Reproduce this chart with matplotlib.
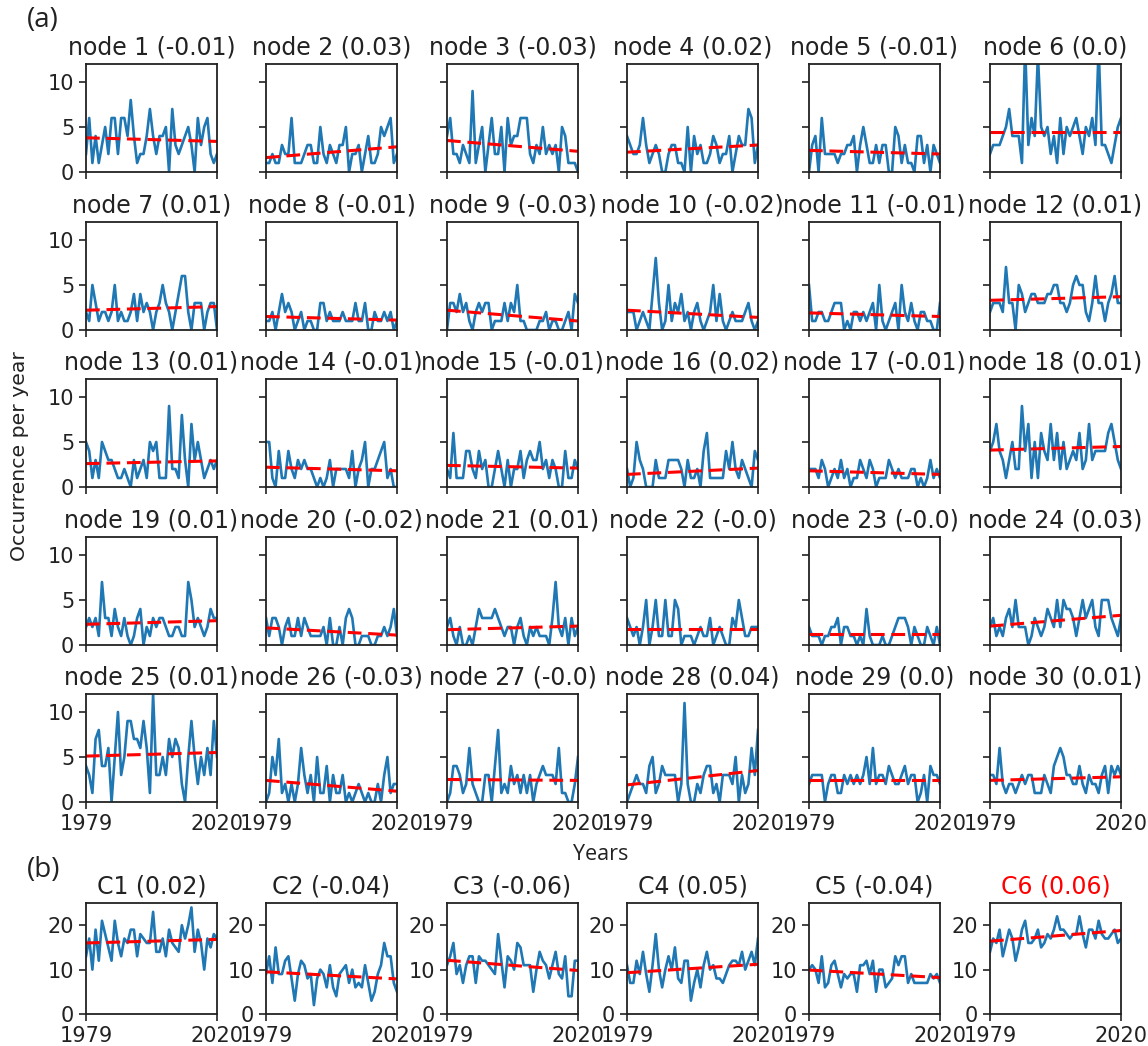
import numpy as np
import matplotlib
matplotlib.use('Agg')
import matplotlib.pyplot as plt

years = np.arange(1979, 2021)

node_1 = [2,6,1,4,1,3,5,2,6,6,2,6,6,4,8,4,1,2,2,4,7,4,2,4,4,5,0,7,3,2,3,4,5,3,0,6,3,5,6,2,1,2]
node_2 = [1,1,2,1,1,3,2,2,6,1,1,1,2,3,3,1,1,5,2,1,3,2,1,3,3,5,0,2,2,3,0,2,4,1,1,2,5,4,5,6,1,2]
node_3 = [4,6,2,2,1,3,2,1,9,1,3,5,0,3,6,2,2,5,0,6,3,4,4,6,6,6,2,1,3,2,5,2,3,2,3,0,5,4,1,1,1,0]
node_4 = [4,3,2,2,3,6,3,1,2,3,2,0,0,2,3,3,1,1,0,5,0,4,2,3,1,1,2,4,3,1,2,2,4,0,2,4,3,3,7,6,1,3]
node_5 = [0,3,4,0,6,2,2,2,2,1,2,2,3,3,4,0,3,5,3,1,1,3,1,3,3,0,0,5,4,1,3,1,1,0,4,4,1,3,0,3,2,1]
node_6 = [2,3,3,3,4,5,7,4,4,4,1,14,3,6,4,13,5,4,5,2,4,1,6,2,5,4,5,6,4,2,5,4,6,3,14,3,3,2,1,3,5,6]
node_7 = [2,1,5,3,1,2,2,1,2,5,1,2,1,1,2,4,1,4,2,3,2,0,2,3,5,3,2,0,2,4,6,6,2,0,3,3,3,0,2,3,3,0]
node_8 = [1,1,2,0,2,4,2,3,2,0,1,2,0,1,1,0,0,3,3,1,2,1,1,1,2,1,1,1,3,1,1,3,0,0,2,1,1,2,1,2,0,1]
node_9 = [0,3,3,2,4,2,3,1,0,2,3,2,3,3,0,1,1,1,3,1,3,2,5,1,1,0,0,0,0,1,1,2,0,1,1,0,0,1,2,0,4,3]
node_10 = [2,2,2,0,1,2,1,0,4,8,3,0,1,5,1,3,2,4,1,2,0,2,3,1,0,1,2,5,1,4,1,0,1,2,1,1,1,2,3,1,0,1]
node_11 = [5,1,1,2,2,1,1,2,3,3,3,0,1,0,2,2,1,2,1,2,3,0,5,1,0,1,2,3,0,5,2,1,3,1,0,2,2,1,1,0,0,3]
node_12 = [2,3,3,3,2,7,3,3,0,5,4,2,3,4,4,3,3,3,4,4,5,5,3,3,2,3,5,6,5,5,2,1,3,6,3,3,1,3,4,6,3,3]
node_13 = [5,4,1,3,1,5,4,3,3,2,1,1,2,1,0,3,1,2,3,1,5,4,5,1,1,1,9,2,2,1,8,3,0,7,3,5,3,1,2,3,2,3]
node_14 = [5,5,1,0,4,1,1,4,2,1,3,2,3,2,2,1,0,1,0,1,3,0,2,2,2,2,1,4,0,2,3,5,0,2,2,3,4,5,1,2,0,0]
node_15 = [2,1,6,1,1,1,4,4,2,1,4,2,3,0,0,2,4,2,0,3,0,2,2,4,1,3,4,3,3,5,2,3,1,3,2,0,0,4,1,1,3,2]
node_16 = [2,0,1,5,3,2,0,0,0,3,1,1,1,3,3,3,3,2,0,3,1,1,2,0,4,6,1,1,1,1,1,4,2,5,2,1,3,2,1,0,4,3]
node_17 = [2,2,2,1,3,2,0,1,2,1,3,1,2,0,1,1,3,2,1,3,2,0,1,1,1,3,2,1,2,1,1,1,2,2,0,1,0,1,3,1,2,1]
node_18 = [4,5,7,4,3,1,3,5,2,2,9,4,7,1,5,1,6,4,3,7,3,6,2,5,2,3,4,3,6,2,3,7,3,4,4,4,4,6,7,5,3,2]
node_19 = [2,3,2,3,1,7,3,3,1,4,2,1,3,1,0,1,3,4,0,2,1,3,2,3,3,2,1,1,2,2,1,1,7,5,2,3,2,1,2,4,3,3]
node_20 = [3,1,3,3,2,0,2,3,1,1,3,1,3,2,1,1,1,1,2,0,3,0,0,2,0,3,4,3,0,0,1,1,1,0,0,1,1,2,1,2,4,1]
node_21 = [2,3,1,0,2,0,0,1,0,2,4,3,3,3,3,4,3,2,1,2,2,0,2,3,1,0,2,1,2,1,1,1,0,3,7,2,1,3,0,3,1,2]
node_22 = [3,2,1,2,0,2,5,0,2,5,1,1,5,1,1,5,4,0,1,1,1,0,1,2,1,1,3,0,1,2,1,0,0,3,2,5,3,1,1,2,2,2]
node_23 = [2,1,1,1,0,1,1,2,2,3,0,2,2,1,1,0,1,0,4,1,0,0,0,1,0,0,1,2,3,3,3,2,0,2,1,0,0,2,1,0,2,0]
node_24 = [2,3,1,2,1,3,4,2,5,2,2,2,0,1,3,2,1,2,4,3,2,5,2,5,4,4,3,1,3,5,3,4,5,2,1,5,5,5,3,2,1,3]
node_25 = [4,3,1,7,8,4,4,6,0,5,10,3,5,9,9,7,7,6,9,6,1,12,3,3,5,3,7,5,7,6,2,0,5,9,5,2,5,3,6,3,9,5]
node_26 = [0,1,5,3,7,1,2,0,2,0,2,6,3,1,3,0,5,1,1,4,0,3,1,1,3,0,1,0,1,2,1,0,1,0,0,2,0,3,5,1,2,2]
node_27 = [0,1,4,4,3,1,2,6,2,1,0,0,3,3,0,4,8,1,2,1,4,2,3,1,3,1,3,0,2,3,4,3,3,3,2,6,1,1,0,0,2,5]
node_28 = [0,1,2,3,2,2,1,4,5,1,2,4,3,3,3,3,0,2,11,2,0,0,2,1,3,4,4,1,2,0,3,3,3,2,5,0,3,1,2,6,3,8]
node_29 = [2,3,3,3,3,0,2,3,3,1,1,3,2,3,2,3,2,3,5,2,6,2,3,3,2,4,3,2,2,3,4,2,3,3,0,1,3,0,4,3,3,2]
node_30 = [3,3,2,6,2,1,2,2,1,2,3,2,3,3,1,1,1,3,2,1,4,5,6,5,3,3,2,2,4,2,1,3,2,2,1,3,4,1,4,3,4,3]

c_1 = [13,17,10,19,12,21,18,15,12,21,16,13,17,16,19,19,13,18,17,16,16,23,14,14,17,13,19,16,15,14,20,17,20,24,14,19,16,10,17,15,18,17]
c_2 = [9,13,7,15,9,9,12,13,8,3,9,12,11,8,9,2,8,10,9,6,11,6,4,9,10,11,7,10,6,7,6,11,7,3,5,9,11,16,13,13,7,5]
c_3 = [11,13,16,9,11,7,11,13,13,7,13,12,12,11,10,9,18,12,6,13,12,10,16,15,11,11,11,5,10,14,12,11,8,11,14,9,8,13,4,4,12,12]
c_4 = [11,7,7,12,9,14,9,5,11,18,10,6,10,13,10,15,8,7,12,12,3,7,10,6,11,14,10,11,8,8,7,9,11,12,12,11,14,10,12,14,11,17]
c_5 = [10,11,10,7,13,6,7,11,12,9,6,9,8,9,9,5,11,11,12,9,12,5,10,10,6,7,8,13,11,13,13,7,9,7,7,7,7,7,9,8,9,7]
c_6 = [14,17,16,19,13,16,19,17,12,15,19,21,16,16,17,19,15,16,18,17,19,22,19,19,18,17,18,18,22,18,15,19,19,17,21,18,17,17,18,19,16,17]

node_series = [node_1, node_2, node_3, node_4, node_5, node_6, node_7, node_8, node_9, node_10,
               node_11, node_12, node_13, node_14, node_15, node_16, node_17, node_18, node_19, node_20,
               node_21, node_22, node_23, node_24, node_25, node_26, node_27, node_28, node_29, node_30]
cluster_series = [c_1, c_2, c_3, c_4, c_5, c_6]

node_slopes = ['-0.01', '0.03', '-0.03', '0.02', '-0.01', '0.0', '0.01', '-0.01', '-0.03', '-0.02',
               '-0.01', '0.01', '0.01', '-0.01', '-0.01', '0.02', '-0.01', '0.01', '0.01', '-0.02',
               '0.01', '-0.0', '-0.0', '0.03', '0.01', '-0.03', '-0.0', '0.04', '0.0', '0.01']
cluster_slopes = ['0.02', '-0.04', '-0.06', '0.05', '-0.04', '0.06']

# trend line ends
node_trend_start = [3.8,1.6,3.5,2.2,2.4,4.5,2.2,1.5,2.2,2.2,1.9,3.3,2.6,2.2,2.4,1.4,1.8,4.1,2.3,1.9,1.7,1.8,1.2,2.1,5.1,2.4,2.5,1.9,2.5,2.4]
node_trend_end = [3.4,2.8,2.3,3.0,2.0,4.5,2.6,1.1,1.0,1.4,1.5,3.7,2.9,1.8,2.1,2.1,1.4,4.5,2.7,1.1,2.1,1.8,1.2,3.3,5.5,1.2,2.4,3.5,2.5,2.8]
cluster_trend_start = [16.0,9.5,12.1,9.3,9.9,16.4]
cluster_trend_end = [16.8,7.9,9.8,11.2,8.2,18.8]

W, H = 1148, 1046
col_left = [86, 266, 447, 627, 809, 990]
ax_w = 131
row_top = [64, 222, 379, 537, 694]
row_h = 108
ctop, ch = 903, 111
TXT = '#222222'
TICK_FS = 15
TITLE_FS = 17

plt.rcParams['font.family'] = 'DejaVu Sans'
plt.rcParams['axes.edgecolor'] = TXT
plt.rcParams['xtick.color'] = TXT
plt.rcParams['ytick.color'] = TXT

fig = plt.figure(figsize=(W / 100, H / 100), dpi=100)


def make_ax(x, y, w, h):
    return fig.add_axes([x / W, 1 - (y + h) / H, w / W, h / H])


def draw(ax, ys, t0, t1, title, color=TXT):
    ax.plot(years, ys, color='#1f77b4', lw=1.9)
    ax.plot([years[0], years[-1]], [t0, t1], color='red', lw=2.2, ls=(0, (4.5, 2.2)))
    ax.set_xlim(1979, 2020)
    ax.set_xticks([1979, 2020])
    ax.set_title(title, fontsize=TITLE_FS, color=color, pad=7)
    ax.tick_params(labelsize=TICK_FS, width=1.2, length=5)
    ax.tick_params(axis='x', pad=3.5)
    for s in ax.spines.values():
        s.set_linewidth(1.3)


# panel (a)
for i, ys in enumerate(node_series):
    r, c = divmod(i, 6)
    ax = make_ax(col_left[c], row_top[r], ax_w, row_h)
    draw(ax, ys, node_trend_start[i], node_trend_end[i], 'node %d (%s)' % (i + 1, node_slopes[i]))
    ax.set_ylim(0, 12)
    ax.set_yticks([0, 5, 10])
    if c > 0:
        ax.set_yticklabels([])
    if r < 4:
        ax.set_xticklabels([])

# panel (b)
for i, ys in enumerate(cluster_series):
    ax = make_ax(col_left[i], ctop, ax_w, ch)
    draw(ax, ys, cluster_trend_start[i], cluster_trend_end[i], 'C%d (%s)' % (i + 1, cluster_slopes[i]),
         color='red' if i == 5 else TXT)
    ax.set_ylim(0, 25)
    ax.set_yticks([0, 10, 20])

fig.text(27 / W, 1 - 20 / H, '(a)', fontsize=20, family='Open Sans', color=TXT, va='center')
fig.text(27 / W, 1 - 870 / H, '(b)', fontsize=20, family='Open Sans', color=TXT, va='center')
fig.text(20 / W, 1 - 456 / H, 'Occurrence per year', fontsize=14.7, rotation=90, color=TXT, ha='center', va='center')
fig.text(601 / W, 1 - 855 / H, 'Years', fontsize=15.5, family='Open Sans', color=TXT, ha='center', va='center')

fig.savefig('out.png', dpi=100)
